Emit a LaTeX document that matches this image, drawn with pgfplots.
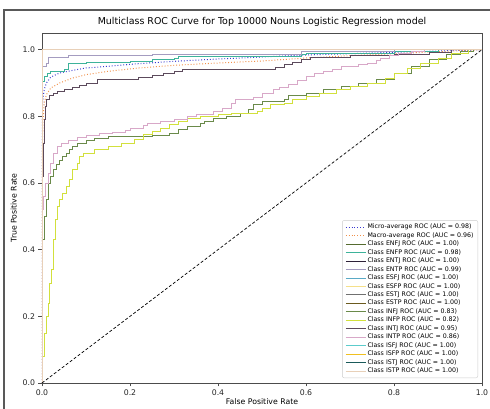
\documentclass[border=0pt]{standalone}
\usepackage{pgfplots}
\pgfplotsset{compat=1.18}
\usepackage{fontspec}
\setmainfont{DejaVu Sans}
\definecolor{cMicro}{HTML}{3A3AD0}
\definecolor{cMacro}{HTML}{F0904A}
\definecolor{cENFJ}{HTML}{556B2F}
\definecolor{cENFP}{HTML}{3DB39A}
\definecolor{cENTJ}{HTML}{2E2238}
\definecolor{cENTP}{HTML}{A49CC0}
\definecolor{cESFJ}{HTML}{5AAAC6}
\definecolor{cESFP}{HTML}{F5E08A}
\definecolor{cESTJ}{HTML}{707070}
\definecolor{cESTP}{HTML}{6B5A1E}
\definecolor{cINFJ}{HTML}{6A8A4A}
\definecolor{cINFP}{HTML}{D2E03C}
\definecolor{cINTJ}{HTML}{5C4A5C}
\definecolor{cINTP}{HTML}{D8A8C8}
\definecolor{cISFJ}{HTML}{5CCCCC}
\definecolor{cISFP}{HTML}{F0C020}
\definecolor{cISTJ}{HTML}{1A5A5A}
\definecolor{cISTP}{HTML}{E8D0B8}
\begin{document}
\begin{tikzpicture}
\useasboundingbox (-42bp,-26bp) rectangle (448bp,383bp);
\begin{axis}[
  at={(0,0)}, anchor=south west,
  scale only axis, width=440bp, height=350bp,
  xmin=0, xmax=1, ymin=0, ymax=1.05,
  xtick={0,0.2,0.4,0.6,0.8,1}, ytick={0,0.2,0.4,0.6,0.8,1},
  /pgf/number format/assume math mode=true,
  xticklabel style={/pgf/number format/.cd, fixed, fixed zerofill, precision=1},
  yticklabel style={/pgf/number format/.cd, fixed, fixed zerofill, precision=1},
  tick label style={font=\fontsize{7.8}{9}\selectfont, color=black!85},
  tick align=outside, major tick length=3.5bp,
  tick style={color=black!70, line width=0.6bp},
  axis line style={color=black!70, line width=0.7bp},
  xtick pos=bottom, ytick pos=left,
  title={Multiclass ROC Curve for Top 10000 Nouns Logistic Regression model},
  title style={font=\fontsize{9.5}{11}\selectfont, at={(axis description cs:0.5,1)}, yshift=5bp, anchor=center},
  xlabel={False Positive Rate}, ylabel={True Positive Rate},
  xlabel style={font=\fontsize{7.8}{9}\selectfont, at={(axis description cs:0.5,0)}, yshift=-19bp, anchor=center},
  ylabel style={font=\fontsize{7.8}{9}\selectfont, at={(axis description cs:-0.064,0.5)}, anchor=center},
  legend style={at={(rel axis cs:0.991,0.014)}, anchor=south east, draw=black!20, rounded corners=2bp,
    fill=white, fill opacity=0.85, text opacity=1, font=\fontsize{6.3}{7.5}\selectfont,
    inner xsep=3bp, inner ysep=2.5bp, row sep=-0.2bp, nodes={inner sep=1.2bp}},
  legend cell align=left,
  legend image code/.code={\draw[#1] (0bp,0bp) -- (20bp,0bp);},
  every axis plot/.append style={line width=0.9bp},
]
\addplot[cMicro, dotted, line width=1bp] coordinates {(0,0)(0,0.75)(0.002,0.85)(0.005,0.88)(0.01,0.9)(0.02,0.918)(0.04,0.93)(0.07,0.938)(0.1,0.945)(0.15,0.95)(0.22,0.958)(0.3,0.965)(0.4,0.972)(0.5,0.978)(0.6,0.984)(0.75,0.99)(0.9,0.996)(1,1)};
\addlegendentry{Micro-average ROC (AUC = 0.98)}
\addplot[cMacro, dotted, line width=1bp] coordinates {(0,0)(0,0.6)(0.002,0.78)(0.005,0.84)(0.01,0.865)(0.02,0.885)(0.04,0.9)(0.07,0.915)(0.1,0.925)(0.15,0.935)(0.22,0.945)(0.3,0.953)(0.4,0.96)(0.5,0.966)(0.6,0.975)(0.7,0.982)(0.8,0.988)(0.9,0.994)(1,1)};
\addlegendentry{Macro-average ROC (AUC = 0.96)}
\addplot[cENFJ] coordinates {(0,0)(0,1)(1,1)};
\addlegendentry{Class ENFJ ROC (AUC = 1.00)}
\addplot[cENFP, const plot] coordinates {(0,0)(0,0.85)(0.002,0.905)(0.005,0.92)(0.012,0.93)(0.02,0.935)(0.05,0.94)(0.06,0.96)(0.1,0.962)(0.2,0.966)(0.25,0.97)(0.3,0.975)(0.31,0.98)(0.59,0.985)(0.6,0.99)(0.8,0.995)(0.9,1)(1,1)};
\addlegendentry{Class ENFP ROC (AUC = 0.98)}
\addplot[cENTJ] coordinates {(0,0)(0,1)(1,1)};
\addlegendentry{Class ENTJ ROC (AUC = 1.00)}
\addplot[cENTP, const plot] coordinates {(0,0)(0,0.95)(0.01,0.96)(0.015,0.978)(0.06,0.982)(0.25,0.985)(0.59,0.994)(0.8,1)(1,1)};
\addlegendentry{Class ENTP ROC (AUC = 0.99)}
\addplot[cESFJ] coordinates {(0,0)(0,1)(1,1)};
\addlegendentry{Class ESFJ ROC (AUC = 1.00)}
\addplot[cESFP] coordinates {(0,0)(0,1)(1,1)};
\addlegendentry{Class ESFP ROC (AUC = 1.00)}
\addplot[cESTJ] coordinates {(0,0)(0,1)(1,1)};
\addlegendentry{Class ESTJ ROC (AUC = 1.00)}
\addplot[cESTP] coordinates {(0,0)(0,1)(1,1)};
\addlegendentry{Class ESTP ROC (AUC = 1.00)}
\addplot[cINFJ, const plot] coordinates {(0,0)(0,0.3)(0.002,0.43)(0.006,0.5)(0.01,0.55)(0.015,0.6)(0.02,0.62)(0.025,0.64)(0.033,0.655)(0.04,0.668)(0.047,0.68)(0.055,0.69)(0.063,0.7)(0.07,0.71)(0.08,0.72)(0.1,0.728)(0.12,0.735)(0.15,0.74)(0.25,0.742)(0.29,0.75)(0.31,0.76)(0.33,0.77)(0.36,0.778)(0.37,0.785)(0.39,0.795)(0.42,0.8)(0.45,0.81)(0.47,0.82)(0.48,0.835)(0.5,0.845)(0.55,0.85)(0.56,0.862)(0.6,0.87)(0.64,0.88)(0.68,0.89)(0.72,0.9)(0.76,0.91)(0.8,0.93)(0.84,0.95)(0.88,0.97)(0.92,0.985)(0.95,0.995)(0.98,1)(1,1)};
\addlegendentry{Class INFJ ROC (AUC = 0.83)}
\addplot[cINFP, const plot] coordinates {(0,0)(0.002,0.08)(0.006,0.15)(0.01,0.2)(0.014,0.24)(0.018,0.3)(0.022,0.34)(0.026,0.43)(0.03,0.49)(0.035,0.53)(0.04,0.55)(0.047,0.57)(0.055,0.59)(0.063,0.61)(0.07,0.64)(0.08,0.66)(0.085,0.68)(0.095,0.69)(0.12,0.7)(0.15,0.71)(0.18,0.72)(0.21,0.73)(0.23,0.745)(0.25,0.755)(0.27,0.765)(0.29,0.775)(0.31,0.785)(0.33,0.795)(0.36,0.8)(0.4,0.805)(0.43,0.81)(0.49,0.815)(0.5,0.825)(0.52,0.835)(0.55,0.84)(0.57,0.85)(0.6,0.86)(0.63,0.87)(0.67,0.88)(0.7,0.89)(0.74,0.9)(0.78,0.915)(0.8,0.93)(0.83,0.945)(0.86,0.96)(0.9,0.975)(0.93,0.99)(0.97,1)(1,1)};
\addlegendentry{Class INFP ROC (AUC = 0.82)}
\addplot[cINTJ, const plot] coordinates {(0,0)(0.001,0.45)(0.002,0.62)(0.004,0.72)(0.006,0.79)(0.008,0.83)(0.011,0.85)(0.016,0.862)(0.025,0.868)(0.035,0.875)(0.05,0.88)(0.07,0.886)(0.085,0.893)(0.1,0.9)(0.125,0.91)(0.22,0.916)(0.25,0.922)(0.275,0.928)(0.3,0.934)(0.32,0.94)(0.53,0.947)(0.55,0.955)(0.57,0.963)(0.59,0.972)(0.61,0.978)(0.7,0.982)(0.8,0.987)(0.88,0.993)(0.93,1)(1,1)};
\addlegendentry{Class INTJ ROC (AUC = 0.95)}
\addplot[cINTP, const plot] coordinates {(0,0)(0,0.42)(0.002,0.52)(0.004,0.56)(0.008,0.6)(0.014,0.63)(0.02,0.66)(0.027,0.69)(0.035,0.71)(0.045,0.72)(0.06,0.728)(0.08,0.736)(0.1,0.742)(0.13,0.748)(0.16,0.752)(0.19,0.758)(0.2,0.765)(0.23,0.772)(0.24,0.778)(0.27,0.785)(0.3,0.792)(0.33,0.8)(0.35,0.806)(0.39,0.815)(0.41,0.825)(0.43,0.838)(0.44,0.85)(0.48,0.858)(0.5,0.868)(0.525,0.88)(0.54,0.888)(0.56,0.896)(0.58,0.908)(0.6,0.92)(0.62,0.928)(0.64,0.935)(0.66,0.942)(0.68,0.95)(0.72,0.955)(0.74,0.96)(0.76,0.968)(0.77,0.975)(0.79,0.982)(0.81,0.99)(0.84,0.995)(0.87,1)(1,1)};
\addlegendentry{Class INTP ROC (AUC = 0.86)}
\addplot[cISFJ] coordinates {(0,0)(0,1)(1,1)};
\addlegendentry{Class ISFJ ROC (AUC = 1.00)}
\addplot[cISFP] coordinates {(0,0)(0,1)(1,1)};
\addlegendentry{Class ISFP ROC (AUC = 1.00)}
\addplot[cISTJ] coordinates {(0,0)(0,1)(1,1)};
\addlegendentry{Class ISTJ ROC (AUC = 1.00)}
\addplot[cISTP] coordinates {(0,0)(0,1)(1,1)};
\addlegendentry{Class ISTP ROC (AUC = 1.00)}
\addplot[black, densely dashed, line width=0.7bp, forget plot] coordinates {(0,0)(1,1)};
\end{axis}
\draw[line width=1.8bp, color=black!65] (-38bp,-26bp) -- (-38bp,373bp) -- (448bp,373bp);
\end{tikzpicture}
\end{document}
